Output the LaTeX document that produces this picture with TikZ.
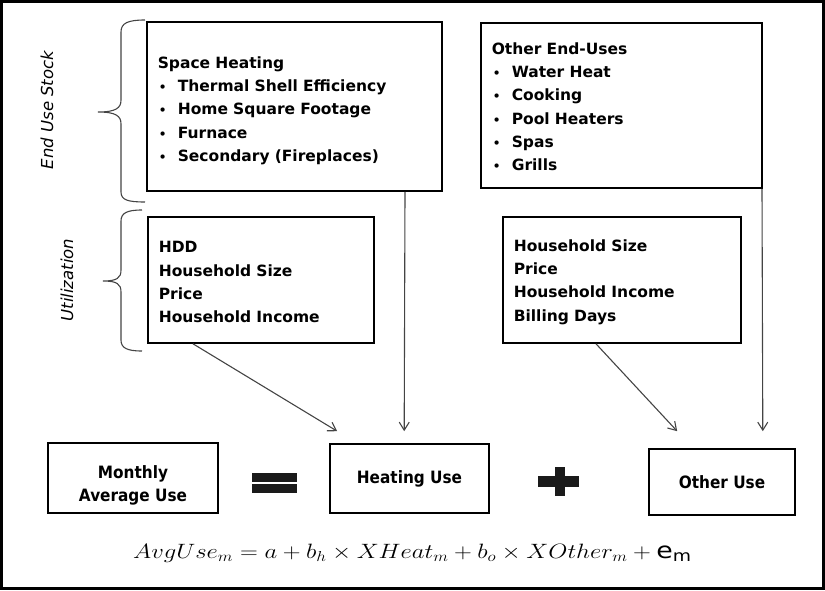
\documentclass[tikz,border=0pt]{standalone}
\usepackage{amsmath,amssymb}
\usepackage{graphicx}
\usepackage{fontspec}
\setmainfont{DejaVu Sans}
\newfontfamily\narrowfont[FakeStretch=0.9]{DejaVu Sans}
\usetikzlibrary{ positioning, arrows.meta, calc }
\usepackage{xcolor}
\definecolor{linegray}{HTML}{444444}
\definecolor{symblack}{HTML}{1a1a1a}

\newcommand{\bitem}[1]{\hspace*{1pt}\makebox[19pt][l]{\fontsize{12}{12}\selectfont\textbullet}#1}

\begin{document}
\begin{tikzpicture}[
  x=1pt, y=-1pt,
  every node/.style={font=\fontsize{15.5}{23.3}\selectfont\bfseries},
  listbox/.style={draw, line width=1.6pt, align=left, inner xsep=11pt,
                  inner ysep=0pt},
  usebox/.style={draw, line width=1.6pt, align=center, inner sep=0pt,
                 font=\fontsize{17}{23}\selectfont\bfseries\narrowfont},
  sidelabel/.style={rotate=90, font=\fontsize{16.5}{18}\selectfont\itshape},
  brace/.style={draw=linegray, line width=1.1pt},
  arr/.style={-{Straight Barb[length=8pt,width=10pt]}, linegray, line width=1.1pt},
]
  \useasboundingbox (0,0) rectangle (825,590);
  % frame
  \draw[line width=3pt] (1.5,1.5) rectangle (823.5,588.5);

  % end use stock
  \node[listbox, text width=273.4pt, minimum height=169pt] (stockH) at (294.5,106.5)
    {\rule{0pt}{20pt}Space Heating\\ \bitem{Thermal Shell Efficiency}\\ \bitem{Home Square Footage}\\
     \bitem{Furnace}\\ \bitem{Secondary (Fireplaces)}};
  \node[listbox, text width=259.4pt, minimum height=165pt] (stockO) at (621.5,105.5)
    {\rule{0pt}{14pt}Other End-Uses\\ \bitem{Water Heat}\\ \bitem{Cooking}\\ \bitem{Pool Heaters}\\
     \bitem{Spas}\\ \bitem{Grills}};

  % utilization
  \node[listbox, text width=204.4pt, minimum height=126pt] (utilH) at (261,280)
    {\rule{0pt}{16pt}HDD\\ Household Size\\ Price\\ Household Income};
  \node[listbox, text width=216.4pt, minimum height=126pt] (utilO) at (622,280)
    {\rule{0pt}{16pt}Household Size\\ Price\\ Household Income\\ Billing Days};

  % braces + side labels
  \draw[brace] (145,20) .. controls (128,20) and (121,23) .. (121,32) -- (121,100)
    .. controls (121,108) and (116,112) .. (98,112)
    .. controls (116,112) and (121,116) .. (121,124) -- (121,192)
    .. controls (121,200) and (128,202) .. (145,202);
  \draw[brace] (142,210) .. controls (127,210) and (121,213) .. (121,221) -- (121,270)
    .. controls (121,278) and (117,281) .. (103,281)
    .. controls (117,281) and (121,284) .. (121,292) -- (121,340)
    .. controls (121,348) and (127,351) .. (142,351);
  \node[sidelabel] (lblstock) at (47,110) {End Use Stock};
  \node[sidelabel] (lblutil) at (67,280) {Utilization};

  % bottom row
  \node[usebox, minimum width=170pt, minimum height=70pt] (avg) at (133,478)
    {\raisebox{-7pt}[\height][\depth]{\begin{tabular}{@{}c@{}}Monthly\\ Average Use\end{tabular}}};
  \node[usebox, minimum width=159pt, minimum height=69pt] (heatuse) at (409.5,478.5)
    {Heating Use};
  \node[usebox, minimum width=146pt, minimum height=66pt] (otheruse) at (722,482)
    {Other Use};

  % = and +
  \fill[symblack] (252,473) rectangle (297,482);
  \fill[symblack] (252,484) rectangle (297,493);
  \fill[symblack] (555,467) rectangle (565,496);
  \fill[symblack] (538,476) rectangle (579,487);

  % arrows
  \draw[arr] ([xshift=46pt]utilH.south west) -- ([xshift=8pt,yshift=12pt]heatuse.north west);
  \draw[arr] ([xshift=-38pt]stockH.south east) -- ([xshift=75pt,yshift=12pt]heatuse.north west);
  \draw[arr] ([xshift=94pt]utilO.south west) -- ([xshift=29pt,yshift=17pt]otheruse.north west);
  \draw[arr] ([xshift=-1pt]stockO.south east) -- ([xshift=-33pt,yshift=17pt]otheruse.north east);

  % equation
  \node[anchor=base west, font=\fontsize{22.5}{24}\selectfont, inner sep=0pt] (eq) at (133,558)
    {\scalebox{1.19}[1]{$AvgUse_m = a + b_h \times XHeat_m + b_o \times XOther_m + \mathrm{e}_{\mathrm{m}}$}};
\end{tikzpicture}
\end{document}
